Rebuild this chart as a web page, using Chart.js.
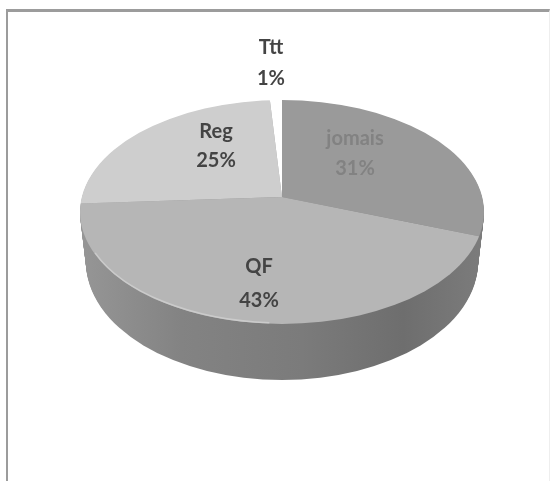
<!DOCTYPE html>
<html>
<head>
<meta charset="utf-8">
<style>
  html, body { margin: 0; padding: 0; background: #fff; }
  #wrap { position: relative; width: 551px; height: 481px; overflow: hidden; }
  #frame { position: absolute; left: 6px; top: 9px; width: 541px; height: 480px;
           border-top: 3px solid #9c9c9c; border-left: 2px solid #9c9c9c; border-right: 1px solid #eee; }
  canvas { position: absolute; left: 0; top: 0; }
</style>
</head>
<body>
<div id="wrap">
  <div id="frame"></div>
  <canvas id="myChart" width="551" height="481"></canvas>
</div>
<script src="https://cdn.jsdelivr.net/npm/chart.js@4"></script>
<script>
const categories = ["jomais", "QF", "Reg", "Ttt"];
const shares = [31, 43, 25, 1];
const sliceColors = ["#9a9a9a", "#b6b6b6", "#cecece", "#ffffff"];
const labelColors = ["#828282", "#444444", "#444444", "#444444"];

// tilted disc: top face outline, the point the slices meet, and the rim below
const face = { x: 282, y: 212, rx: 202, ry: 112 };
const apex = { x: 282, y: 197, sx: 1.1, sy: 0.553 };
const rimBottom = { y: 262, rx: 196, ry: 118 };
const labelSpots = [
  { x: 355, y: 139, gap: 30 },
  { x: 259, y: 267, gap: 34 },
  { x: 216, y: 132, gap: 29 },
  { x: 271, y: 48, gap: 31 },
];

const tiltedPie = {
  id: "tiltedPie",
  beforeDatasetsDraw(chart) {
    const ctx = chart.ctx;
    const wall = ctx.createLinearGradient(face.x - face.rx, 0, face.x + face.rx, 0);
    wall.addColorStop(0, "#969696");
    wall.addColorStop(0.25, "#838383");
    wall.addColorStop(0.55, "#7b7b7b");
    wall.addColorStop(0.8, "#6e6e6e");
    wall.addColorStop(1, "#7c7c7c");
    ctx.save();
    ctx.fillStyle = wall;
    const steps = 50;
    for (let i = steps; i > 0; i--) {
      const t = i / steps;
      ctx.beginPath();
      ctx.ellipse(
        face.x,
        face.y + (rimBottom.y - face.y) * t,
        face.rx + (rimBottom.rx - face.rx) * t,
        face.ry + (rimBottom.ry - face.ry) * t,
        0, 0, Math.PI * 2
      );
      ctx.fill();
    }
    ctx.restore();
  },
  beforeDatasetDraw(chart) {
    const ctx = chart.ctx;
    const arc = chart.getDatasetMeta(0).data[0];
    ctx.save();
    ctx.beginPath();
    ctx.ellipse(face.x, face.y, face.rx, face.ry, 0, 0, Math.PI * 2);
    ctx.clip();
    ctx.translate(apex.x, apex.y);
    ctx.scale(apex.sx, apex.sy);
    ctx.translate(-arc.x, -arc.y);
  },
  afterDatasetDraw(chart) {
    chart.ctx.restore();
  },
  afterDatasetsDraw(chart) {
    const ctx = chart.ctx;
    ctx.save();

    // pale highlight along the front left edge of the top face
    ctx.strokeStyle = "#cbcbcb";
    ctx.lineWidth = 1.5;
    ctx.beginPath();
    ctx.ellipse(face.x, face.y, face.rx - 1, face.ry - 1, 0, Math.PI * 0.52, Math.PI * 0.88);
    ctx.stroke();

    ctx.font = "bold 20px Lato";
    ctx.textAlign = "center";
    ctx.textBaseline = "middle";
    categories.forEach((name, i) => {
      const spot = labelSpots[i];
      ctx.fillStyle = labelColors[i];
      ctx.fillText(name, spot.x, spot.y);
      ctx.fillText(shares[i] + "%", spot.x, spot.y + spot.gap);
    });
    ctx.restore();
  },
};

const ctx = document.getElementById("myChart");

new Chart(ctx, {
  type: "pie",
  data: {
    labels: categories,
    datasets: [
      {
        data: shares,
        backgroundColor: sliceColors,
        borderWidth: 0,
        clip: false,
      },
    ],
  },
  options: {
    responsive: false,
    animation: false,
    events: [],
    plugins: {
      legend: { display: false },
      tooltip: { enabled: false },
    },
  },
  plugins: [tiltedPie],
});
</script>
</body>
</html>
